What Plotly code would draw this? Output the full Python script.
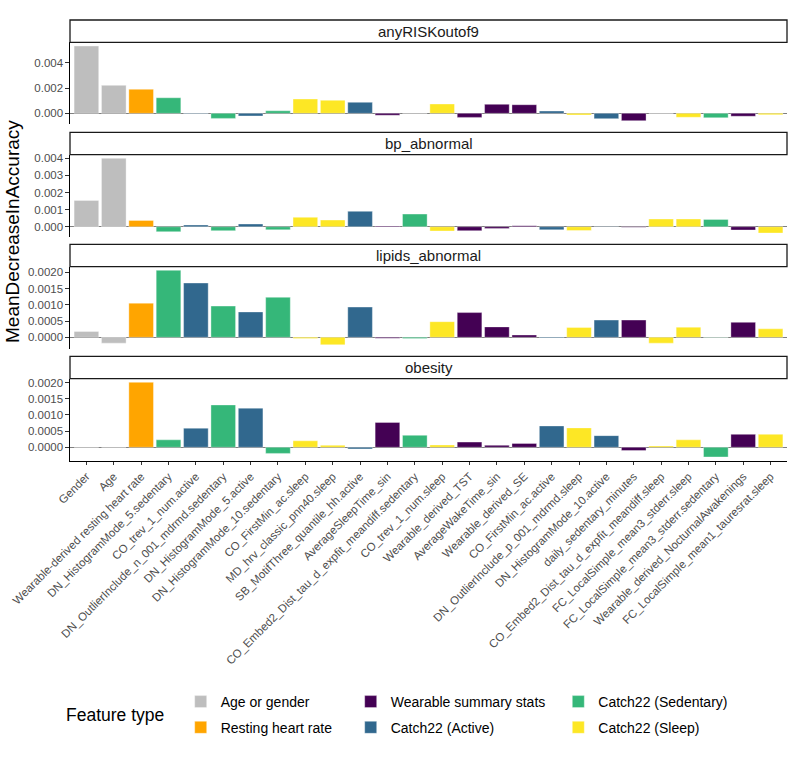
import plotly.graph_objects as go

features = [
    "Gender", "Age", "Wearable-derived resting heart rate",
    "DN_HistogramMode_5.sedentary", "CO_trev_1_num.active",
    "DN_OutlierInclude_n_001_mdrmd.sedentary", "DN_HistogramMode_5.active",
    "DN_HistogramMode_10.sedentary", "CO_FirstMin_ac.sleep",
    "MD_hrv_classic_pnn40.sleep", "SB_MotifThree_quantile_hh.active",
    "AverageSleepTime_sin", "CO_Embed2_Dist_tau_d_expfit_meandiff.sedentary",
    "CO_trev_1_num.sleep", "Wearable_derived_TST", "AverageWakeTime_sin",
    "Wearable_derived_SE", "CO_FirstMin_ac.active",
    "DN_OutlierInclude_p_001_mdrmd.sleep", "DN_HistogramMode_10.active",
    "daily_sedentary_minutes", "CO_Embed2_Dist_tau_d_expfit_meandiff.sleep",
    "FC_LocalSimple_mean3_stderr.sleep", "FC_LocalSimple_mean3_stderr.sedentary",
    "Wearable_derived_NocturnalAwakenings", "FC_LocalSimple_mean1_tauresrat.sleep",
]

feature_type = [
    "Age or gender", "Age or gender", "Resting heart rate",
    "Catch22 (Sedentary)", "Catch22 (Active)", "Catch22 (Sedentary)",
    "Catch22 (Active)", "Catch22 (Sedentary)", "Catch22 (Sleep)",
    "Catch22 (Sleep)", "Catch22 (Active)", "Wearable summary stats",
    "Catch22 (Sedentary)", "Catch22 (Sleep)", "Wearable summary stats",
    "Wearable summary stats", "Wearable summary stats", "Catch22 (Active)",
    "Catch22 (Sleep)", "Catch22 (Active)", "Wearable summary stats",
    "Catch22 (Sleep)", "Catch22 (Sleep)", "Catch22 (Sedentary)",
    "Wearable summary stats", "Catch22 (Sleep)",
]

outcomes = ["anyRISKoutof9", "bp_abnormal", "lipids_abnormal", "obesity"]

any_risk = [0.00532, 0.00221, 0.00190, 0.00123, -0.00003, -0.00040, -0.00021,
            0.00020, 0.00113, 0.00103, 0.00087, -0.00015, 0.00001, 0.00074,
            -0.00032, 0.00071, 0.00068, 0.00018, -0.00013, -0.00042, -0.00058,
            0.00000, -0.00031, -0.00035, -0.00023, -0.00011]
bp_abnormal = [0.00154, 0.00400, 0.00037, -0.00029, 0.00010, -0.00023, 0.00016,
               -0.00018, 0.00055, 0.00039, 0.00090, 0.00004, 0.00074, -0.00025,
               -0.00023, -0.00010, 0.00006, -0.00018, -0.00022, -0.00002,
               -0.00003, 0.00045, 0.00045, 0.00043, -0.00019, -0.00037]
lipids_abnormal = [0.00018, -0.00018, 0.00105, 0.00206, 0.00167, 0.00096,
                   0.00078, 0.00123, -0.00004, -0.00023, 0.00093, -0.00003,
                   -0.00004, 0.00048, 0.00076, 0.00032, 0.00007, -0.00002,
                   0.00030, 0.00053, 0.00053, -0.00018, 0.00031, -0.00001,
                   0.00046, 0.00026]
obesity = [0.00000, 0.00000, 0.00201, 0.00023, 0.00059, 0.00131, 0.00121,
           -0.00019, 0.00020, 0.00006, -0.00005, 0.00077, 0.00037, 0.00007,
           0.00016, 0.00006, 0.00012, 0.00066, 0.00060, 0.00036, -0.00010,
           0.00004, 0.00023, -0.00030, 0.00040, 0.00040]

type_order = ["Age or gender", "Resting heart rate", "Wearable summary stats",
              "Catch22 (Active)", "Catch22 (Sedentary)", "Catch22 (Sleep)"]
type_colors = ["#BEBEBE", "#FFA500", "#440154", "#31688E", "#35B779", "#FDE725"]
type_legend = ["legend", "legend", "legend2", "legend2", "legend3", "legend3"]

tickvals_list = [
    [0, 0.002, 0.004],
    [0, 0.001, 0.002, 0.003, 0.004],
    [0, 0.0005, 0.001, 0.0015, 0.002],
    [0, 0.0005, 0.001, 0.0015, 0.002],
]
tickfmt_list = [".3f", ".3f", ".4f", ".4f"]

series = [any_risk, bp_abnormal, lipids_abnormal, obesity]

W, H = 799, 768
OFF = 0  # body margin removed via post_script
FONT = "Liberation Sans, Arial, sans-serif"


def px(x):
    return (x - OFF) / W


def py(y):
    return 1 - (y - OFF) / H


# panel geometry in page pixels (top, bottom)
panel_px = [(42.3, 124.4), (154.6, 236.8), (266.6, 348.5), (378.6, 460.7)]
strip_h = 22.3
x_left, x_right = 70, 787

fig = go.Figure()

for p, vals in enumerate(series):
    ax = "" if p == 0 else str(p + 1)
    for t, col, lg in zip(type_order, type_colors, type_legend):
        xs = [f for f, ft in zip(features, feature_type) if ft == t]
        ys = [v for v, ft in zip(vals, feature_type) if ft == t]
        fig.add_trace(go.Bar(
            x=xs, y=ys, name=t, marker_color=col,
            marker_line_color="rgba(255,255,255,0.6)", marker_line_width=0.6,
            width=0.9, xaxis="x" + ax, yaxis="y" + ax,
            legendgroup=t, showlegend=(p == 0), legend=lg,
        ))

layout = dict(
    width=W, height=H, plot_bgcolor="white", paper_bgcolor="white",
    margin=dict(l=0, r=0, t=0, b=0, autoexpand=False),
    barmode="overlay", bargap=0.1,
    font=dict(family=FONT, color="black"),
)

shapes = []
annotations = []
for p, vals in enumerate(series):
    ax = "" if p == 0 else str(p + 1)
    top, bot = panel_px[p]
    lo, hi = min(vals + [0]), max(vals + [0])
    d = hi - lo
    rng = [lo - 0.05 * d, hi + 0.05 * d]
    last = (p == 3)
    layout["xaxis" + ax] = dict(
        domain=[px(x_left), px(x_right)], anchor="y" + ax,
        categoryorder="array", categoryarray=features,
        range=[-0.6, len(features) - 0.4], automargin=False,
        showgrid=False, zeroline=False,
        showline=last, linecolor="black", linewidth=1.1,
        ticks="outside" if last else "", ticklen=3.5, tickcolor="#333333",
        tickwidth=1,
        showticklabels=last, tickangle=-45,
        tickfont=dict(family=FONT, size=11.5, color="#4D4D4D"),
        matches=None if last else "x4",
    )
    layout["yaxis" + ax] = dict(
        domain=[py(bot), py(top)], anchor="x" + ax,
        range=rng, tickvals=tickvals_list[p], tickformat=tickfmt_list[p],
        automargin=False,
        showgrid=False, zeroline=True, zerolinecolor="#7F7F7F",
        zerolinewidth=1,
        showline=True, linecolor="black", linewidth=1.1,
        ticks="outside", ticklen=3.5, tickcolor="#333333", tickwidth=1,
        tickfont=dict(family=FONT, size=11.5, color="#4D4D4D"),
    )
    # strip
    shapes.append(dict(
        type="rect", xref="paper", yref="paper",
        x0=px(x_left), x1=px(x_right),
        y0=py(top), y1=py(top - strip_h),
        line=dict(color="#1A1A1A", width=1.3), fillcolor="white", layer="above",
    ))
    annotations.append(dict(
        text=outcomes[p], xref="paper", yref="paper",
        x=px((x_left + x_right) / 2), y=py(top - strip_h / 2),
        xanchor="center", yanchor="middle", showarrow=False,
        font=dict(family=FONT, size=15, color="#1A1A1A"),
    ))

annotations.append(dict(
    text="MeanDecreaseInAccuracy", xref="paper", yref="paper",
    x=px(13), y=py(232), textangle=-90, showarrow=False,
    xanchor="center", yanchor="middle",
    font=dict(family=FONT, size=19, color="black"),
))
annotations.append(dict(
    text="Feature type", xref="paper", yref="paper",
    x=px(64), y=py(715), showarrow=False,
    xanchor="left", yanchor="middle",
    font=dict(family=FONT, size=17.5, color="black"),
))

leg_common = dict(
    orientation="v", yanchor="top", xanchor="left",
    font=dict(family=FONT, size=14, color="black"),
    bgcolor="rgba(0,0,0,0)", tracegroupgap=4.5, itemclick=False,
)
legend_text_x = [220.7, 390.7, 598.3]
for i, name in enumerate(["legend", "legend2", "legend3"]):
    layout[name] = dict(leg_common, x=px(legend_text_x[i] - 40), y=py(686))

layout["shapes"] = shapes
layout["annotations"] = annotations
fig.update_layout(**layout)

fig.write_html("out.html",
               config={"displayModeBar": False},
               post_script="document.body.style.margin='0px';"
                           "document.body.style.overflow='hidden';")
